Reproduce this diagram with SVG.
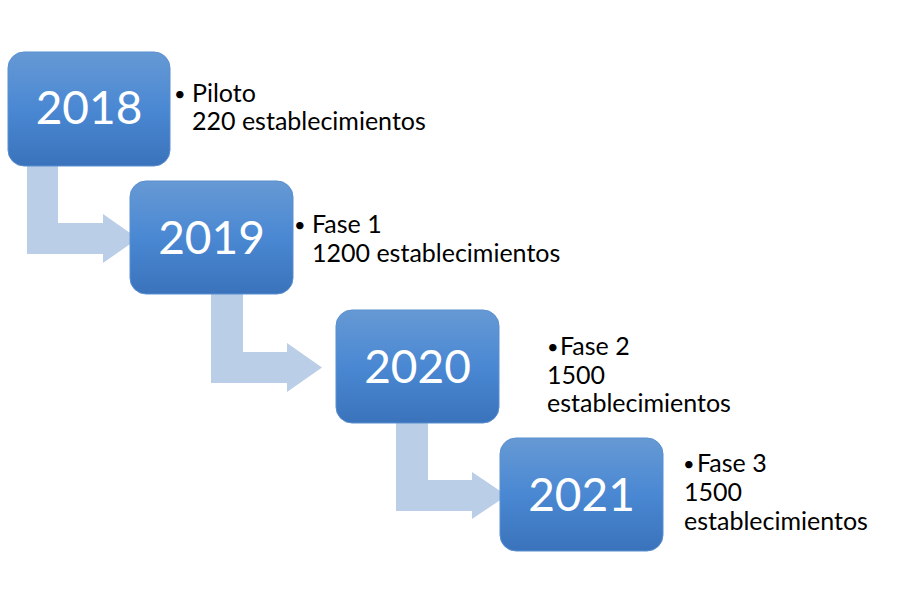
<svg xmlns="http://www.w3.org/2000/svg" width="921" height="605" viewBox="0 0 921 605">
<defs>
<linearGradient id="boxGrad" x1="0" y1="0" x2="0" y2="1">
<stop offset="0" stop-color="#6699D4"/>
<stop offset="0.5" stop-color="#4A88D3"/>
<stop offset="1" stop-color="#3A73BB"/>
</linearGradient>
<style>
.box{fill:url(#boxGrad);stroke:#5A8FCF;stroke-width:1}
.year{font-family:Lato,"Liberation Sans",sans-serif;font-size:46px;fill:#FFFFFF;text-anchor:middle}
.lbl{font-family:Lato,"Liberation Sans",sans-serif;font-size:25px;fill:#000000}
.bul{font-size:20px}
.arrow{fill:#BBCEE7}
</style>
</defs>
<rect width="921" height="605" fill="#FFFFFF"/>
<g id="connectors">
<path class="arrow" d="M27,160 L58,160 L58,223 L103,223 L103,214 L138,238.5 L103,263 L103,254 L27,254 Z"/>
<path class="arrow" d="M211,288 L243,288 L243,352 L287,352 L287,343 L322,367.5 L287,392 L287,383 L211,383 Z"/>
<path class="arrow" d="M396,417 L428,417 L428,480 L472,480 L472,472 L507,495.5 L472,519 L472,511 L396,511 Z"/>
</g>
<g id="node-2018">
<rect class="box" x="8" y="52" width="162" height="114" rx="16"/>
<text class="year" x="89" y="124">2018</text>
<text class="lbl"><tspan class="bul" x="174" y="101">•</tspan><tspan x="192" y="102">Piloto</tspan><tspan x="192" y="130">220 establecimientos</tspan></text>
</g>
<g id="node-2019">
<rect class="box" x="130" y="181" width="163" height="113" rx="16"/>
<text class="year" x="211.5" y="254">2019</text>
<text class="lbl"><tspan class="bul" x="294" y="232">•</tspan><tspan x="312" y="233">Fase 1</tspan><tspan x="312" y="262">1200 establecimientos</tspan></text>
</g>
<g id="node-2020">
<rect class="box" x="336" y="310" width="163" height="113" rx="16"/>
<text class="year" x="417.5" y="383">2020</text>
<text class="lbl"><tspan class="bul" x="547" y="354">•</tspan><tspan x="560" y="355">Fase 2</tspan><tspan x="547" y="384">1500</tspan><tspan x="547" y="412">establecimientos</tspan></text>
</g>
<g id="node-2021">
<rect class="box" x="500" y="438" width="163" height="113" rx="16"/>
<text class="year" x="581.5" y="511">2021</text>
<text class="lbl"><tspan class="bul" x="683" y="471">•</tspan><tspan x="697" y="472">Fase 3</tspan><tspan x="684" y="501">1500</tspan><tspan x="684" y="530">establecimientos</tspan></text>
</g>
</svg>
